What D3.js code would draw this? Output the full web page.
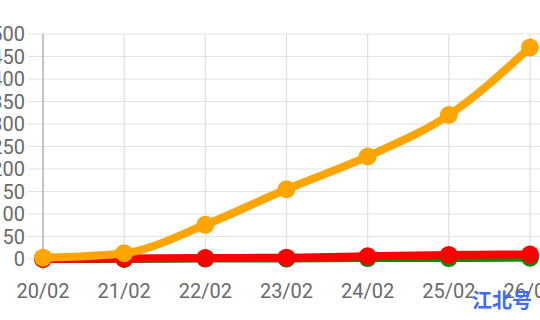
<!DOCTYPE html>
<html>
<head>
<meta charset="utf-8">
<script src="https://cdn.jsdelivr.net/npm/d3@7"></script>
<style>
  body { margin: 0; background: #fff; }
  svg { display: block; }
</style>
</head>
<body>
<div id="chart"></div>
<script>
// data
var dates = ["20/02", "21/02", "22/02", "23/02", "24/02", "25/02", "26/02"];
var orangeValues = [3, 13, 76, 155, 228, 320, 470];
var redValues = [0, 1, 2, 3, 6, 9, 10];
var greenValues = [0, 0, 1, 1, 2, 2, 3];
var yTicks = [0, 50, 100, 150, 200, 250, 300, 350, 400, 450, 500];

var svgWidth = 540;
var svgHeight = 320;

// chart is cropped on the left and right in the reference
var margin = { top: 34, right: 10, bottom: 61, left: 43 };
var width = 530 - margin.left;
var height = svgHeight - margin.top - margin.bottom;

var svg = d3.select("#chart")
  .append("svg")
  .attr("width", svgWidth)
  .attr("height", svgHeight);

var chartGroup = svg.append("g")
  .attr("transform", `translate(${margin.left}, ${margin.top})`);

var xScale = d3.scalePoint()
  .domain(dates)
  .range([0, width]);

var yScale = d3.scaleLinear()
  .domain([0, 500])
  .range([height, 0]);

// horizontal grid lines
chartGroup.append("g")
  .selectAll("line")
  .data(yTicks)
  .enter()
  .append("line")
  .attr("x1", -15)
  .attr("x2", svgWidth)
  .attr("y1", d => yScale(d))
  .attr("y2", d => yScale(d))
  .attr("stroke", "#e3e3e3")
  .attr("stroke-width", 1.2);

// vertical grid lines
chartGroup.append("g")
  .selectAll("line")
  .data(dates.slice(1))
  .enter()
  .append("line")
  .attr("x1", d => xScale(d))
  .attr("x2", d => xScale(d))
  .attr("y1", 0)
  .attr("y2", height + 11)
  .attr("stroke", "#e0e0e0")
  .attr("stroke-width", 1.2);

// y axis line
chartGroup.append("line")
  .attr("x1", 0)
  .attr("x2", 0)
  .attr("y1", 0)
  .attr("y2", height + 11)
  .attr("stroke", "#c4c4c4")
  .attr("stroke-width", 2);

// y tick labels
chartGroup.append("g")
  .selectAll("text")
  .data(yTicks)
  .enter()
  .append("text")
  .attr("x", -18)
  .attr("y", d => yScale(d))
  .attr("dy", "0.36em")
  .attr("text-anchor", "end")
  .attr("font-family", "Roboto, sans-serif")
  .attr("font-size", "20px")
  .attr("fill", "#6a6a6a")
  .text(d => d);

// x tick labels
chartGroup.append("g")
  .selectAll("text")
  .data(dates)
  .enter()
  .append("text")
  .attr("x", d => xScale(d))
  .attr("y", height + 39)
  .attr("text-anchor", "middle")
  .attr("font-family", "Roboto, sans-serif")
  .attr("font-size", "20px")
  .attr("fill", "#6a6a6a")
  .text(d => d);

var line = d3.line()
  .x((d, i) => xScale(dates[i]))
  .y(d => yScale(d))
  .curve(d3.curveMonotoneX);

function drawSeries(values, color) {
  chartGroup.append("path")
    .datum(values)
    .attr("fill", "none")
    .attr("stroke", color)
    .attr("stroke-width", 8)
    .attr("stroke-linejoin", "round")
    .attr("d", line);

  chartGroup.append("g")
    .selectAll("circle")
    .data(values)
    .enter()
    .append("circle")
    .attr("cx", (d, i) => xScale(dates[i]))
    .attr("cy", d => yScale(d))
    .attr("r", 9)
    .attr("fill", color);
}

drawSeries(greenValues, "#0a8a0a");
drawSeries(redValues, "#ff0000");
drawSeries(orangeValues, "#ffa500");

// watermark
svg.append("text")
  .attr("x", 472)
  .attr("y", 308)
  .attr("font-family", "Noto Sans CJK SC, sans-serif")
  .attr("font-weight", "bold")
  .attr("font-size", "20px")
  .attr("fill", "#3d6cf5")
  .text("江北号");
</script>
</body>
</html>
